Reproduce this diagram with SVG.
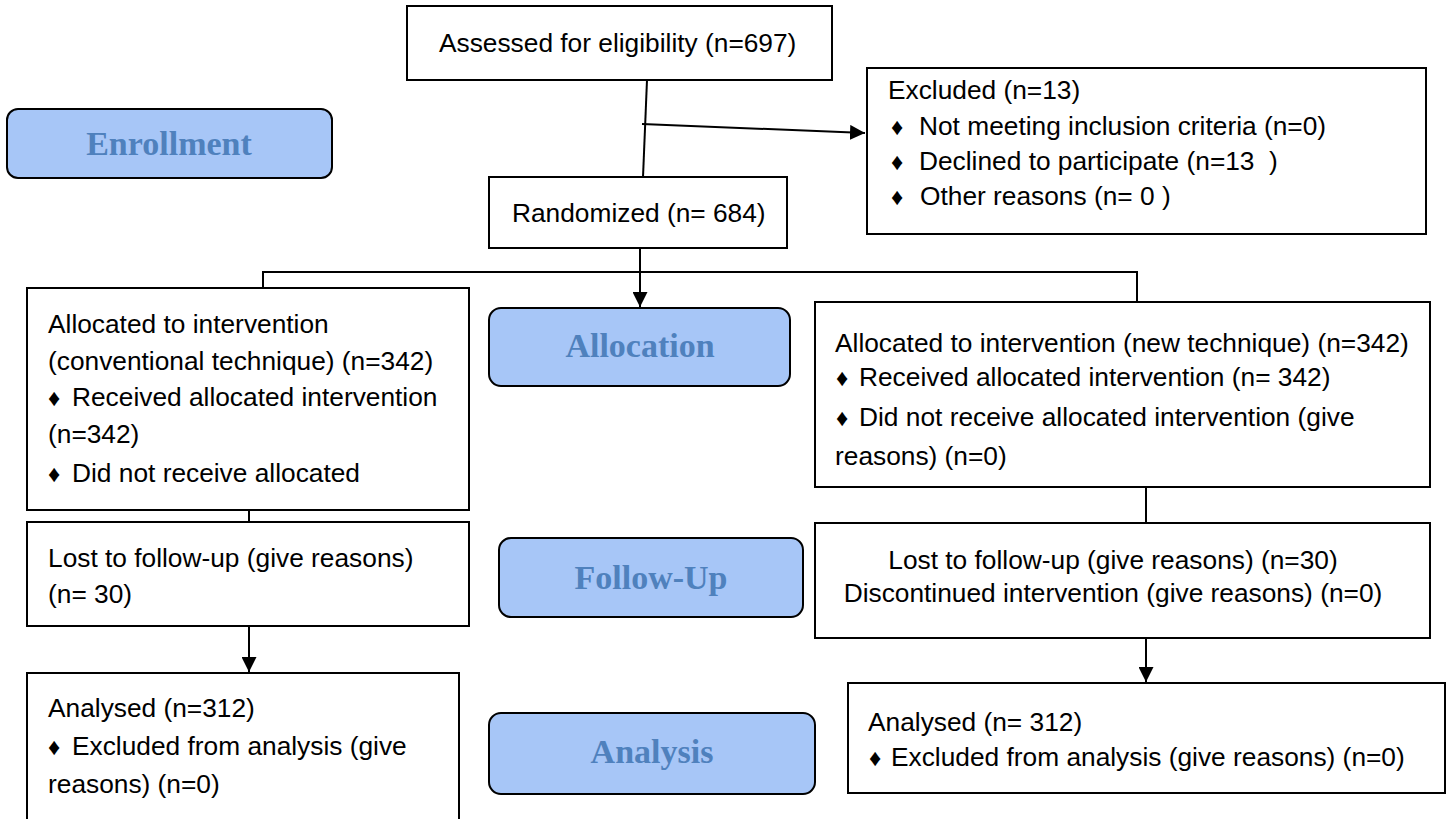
<svg xmlns="http://www.w3.org/2000/svg" width="1454" height="819" viewBox="0 0 1454 819">
<defs>
<style>
.box{fill:#fff;stroke:#000;stroke-width:2}
.phase{fill:#a7c6f7;stroke:#000;stroke-width:2}
.t{font-family:"Liberation Sans",Arial,sans-serif;font-size:26.3px;fill:#000}
.m{text-anchor:middle}
.b{font-size:24px}
.p{font-family:"Liberation Serif","Times New Roman",serif;font-weight:bold;font-size:34px;fill:#4f81bd;text-anchor:middle}
.c{stroke:#000;stroke-width:2;fill:none}
</style>
<marker id="ah" viewBox="0 0 10 10" refX="10" refY="5" markerWidth="15" markerHeight="15" markerUnits="userSpaceOnUse" orient="auto">
<path d="M0,0 L10,5 L0,10 z" fill="#000"/>
</marker>
</defs>
<rect width="1454" height="819" fill="#fff"/>

<g id="connectors">
<line class="c" x1="647" y1="80" x2="643" y2="177"/>
<line class="c" x1="642" y1="124" x2="865" y2="133" marker-end="url(#ah)"/>
<line class="c" x1="640" y1="248" x2="640" y2="307" marker-end="url(#ah)"/>
<polyline class="c" points="263,288 263,272 1137,272 1137,302"/>
<line class="c" x1="249" y1="510" x2="249" y2="522"/>
<line class="c" x1="1146" y1="487" x2="1146" y2="523"/>
<line class="c" x1="249" y1="626" x2="249" y2="672" marker-end="url(#ah)"/>
<line class="c" x1="1146" y1="638" x2="1146" y2="682" marker-end="url(#ah)"/>
</g>

<g id="enrollment">
<rect class="phase" x="7" y="109" width="325" height="69" rx="11"/>
<text class="p" x="169" y="155">Enrollment</text>
</g>

<g id="assessed">
<rect class="box" x="407" y="6" width="425" height="74"/>
<text class="t" x="439" y="52">Assessed for eligibility (n=697)</text>
</g>

<g id="excluded">
<rect class="box" x="867" y="68" width="559" height="166"/>
<text class="t" x="888" y="99">Excluded (n=13)</text>
<text class="t" y="135"><tspan class="b" x="891">♦ </tspan><tspan x="919">Not meeting inclusion criteria (n=0)</tspan></text>
<text class="t" y="170" style="white-space:pre"><tspan class="b" x="891">♦ </tspan><tspan x="919">Declined to participate (n=13  )</tspan></text>
<text class="t" y="205"><tspan class="b" x="891">♦ </tspan><tspan x="920">Other reasons (n= 0 )</tspan></text>
</g>

<g id="randomized">
<rect class="box" x="489" y="177" width="298" height="71"/>
<text class="t" x="512" y="222">Randomized (n= 684)</text>
</g>

<g id="alloc-left">
<rect class="box" x="27" y="288" width="442" height="222"/>
<text class="t" x="48" y="333">Allocated to intervention</text>
<text class="t" x="48" y="370">(conventional technique) (n=342)</text>
<text class="t" y="406"><tspan class="b" x="48">♦ </tspan><tspan x="72">Received allocated intervention</tspan></text>
<text class="t" x="48" y="443">(n=342)</text>
<text class="t" y="482"><tspan class="b" x="48">♦ </tspan><tspan x="72">Did not receive allocated</tspan></text>
</g>

<g id="allocation">
<rect class="phase" x="489" y="308" width="301" height="78" rx="12"/>
<text class="p" x="640" y="357">Allocation</text>
</g>

<g id="alloc-right">
<rect class="box" x="815" y="302" width="615" height="185"/>
<text class="t" x="835" y="352">Allocated to intervention (new technique) (n=342)</text>
<text class="t" y="386"><tspan class="b" x="836">♦ </tspan><tspan x="859">Received allocated intervention (n= 342)</tspan></text>
<text class="t" y="426"><tspan class="b" x="836">♦ </tspan><tspan x="859">Did not receive allocated intervention (give</tspan></text>
<text class="t" x="835" y="465">reasons) (n=0)</text>
</g>

<g id="lost-left">
<rect class="box" x="27" y="522" width="442" height="104"/>
<text class="t" x="48" y="567">Lost to follow-up (give reasons)</text>
<text class="t" x="48" y="603">(n= 30)</text>
</g>

<g id="followup">
<rect class="phase" x="499" y="538" width="304" height="79" rx="12"/>
<text class="p" x="651" y="589">Follow-Up</text>
</g>

<g id="lost-right">
<rect class="box" x="815" y="523" width="615" height="115"/>
<text class="t m" x="1113" y="569">Lost to follow-up (give reasons) (n=30)</text>
<text class="t m" x="1113" y="602">Discontinued intervention (give reasons) (n=0)</text>
</g>

<g id="analysed-left">
<rect class="box" x="27" y="673" width="432" height="160"/>
<text class="t" x="48" y="717">Analysed (n=312)</text>
<text class="t" y="755"><tspan class="b" x="48">♦ </tspan><tspan x="72">Excluded from analysis (give</tspan></text>
<text class="t" x="48" y="793">reasons) (n=0)</text>
</g>

<g id="analysis">
<rect class="phase" x="489" y="713" width="326" height="81" rx="12"/>
<text class="p" x="652" y="763">Analysis</text>
</g>

<g id="analysed-right">
<rect class="box" x="848" y="683" width="597" height="110"/>
<text class="t" x="868" y="731">Analysed (n= 312)</text>
<text class="t" y="766"><tspan class="b" x="869">♦ </tspan><tspan x="891">Excluded from analysis (give reasons) (n=0)</tspan></text>
</g>
</svg>
